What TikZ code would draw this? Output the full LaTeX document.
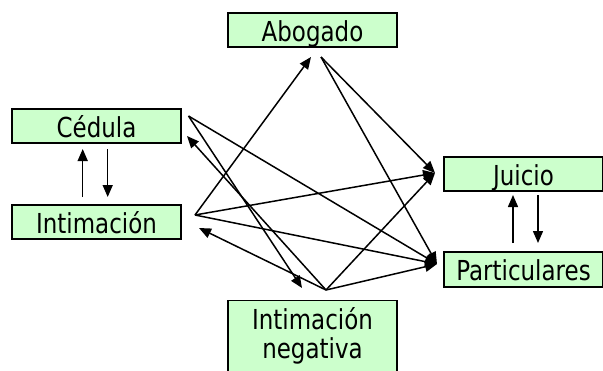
\documentclass[tikz,border=0pt]{standalone}
\usepackage{fontspec}
\setmainfont{DejaVu Sans}[FakeStretch=0.835]
\usetikzlibrary{arrows.meta}
\definecolor{boxgreen}{HTML}{CCFFCC}
\begin{document}
\begin{tikzpicture}[x=1pt,y=-1pt,
  box/.style={draw=black, line width=1.3pt, fill=boxgreen, inner sep=0pt,
    font=\fontsize{27.5}{29}\selectfont, text height=22pt, text depth=0pt,
    minimum height=34pt},
  arr/.style={-{Triangle[length=12pt,width=10pt]}, line width=1.5pt}]
\useasboundingbox (0,0) rectangle (603,370);
% boxes
\node[box, minimum width=169pt] (abogado) at (312.5,30) {Abogado};
\node[box, minimum width=169pt] (cedula) at (96.5,126) {Cédula};
\node[box, minimum width=169pt] (intim) at (96.5,222) {Intimación};
\node[box, minimum width=159pt] (juicio) at (523.5,174) {Juicio};
\node[box, minimum width=159pt, minimum height=35pt] (partic) at (523.5,269.5) {Particulares};
\node[draw=black, line width=1.3pt, fill=boxgreen, anchor=north, align=center,
  minimum width=169pt, minimum height=72pt, inner xsep=0pt, inner ysep=10pt,
  font=\fontsize{27.5}{29}\selectfont, text height=48pt] (neg) at (312.5,300)
  {Intimación\\negativa};
% connector end points
\coordinate (abT) at (311,57);
\coordinate (abS) at (321,57);
\coordinate (ceS) at (188.5,116);
\coordinate (ceT) at (187,136);
\coordinate (inS) at (195,215);
\coordinate (inT) at (199,228);
\coordinate (neS) at (326,290);
\coordinate (neT) at (302,288);
\coordinate (juT) at (435,173);
\coordinate (paT) at (437,264);
% vertical pairs
\coordinate (ciU1) at (82.7,197);
\coordinate (ciU2) at (82.7,149);
\coordinate (ciD1) at (107.7,149);
\coordinate (ciD2) at (107.7,197);
\coordinate (jpU1) at (513,243);
\coordinate (jpU2) at (513,195);
\coordinate (jpD1) at (538,195);
\coordinate (jpD2) at (538,243);
\draw[arr] (ciU1) -- (ciU2);
\draw[arr] (ciD1) -- (ciD2);
\draw[arr] (jpU1) -- (jpU2);
\draw[arr] (jpD1) -- (jpD2);
% cross connectors
\draw[arr] (inS) -- (abT);
\draw[arr] (inS) -- (juT);
\draw[arr] (inS) -- (paT);
\draw[arr] (abS) -- (juT);
\draw[arr] (abS) -- (paT);
\draw[arr] (ceS) -- (paT);
\draw[arr] (ceS) -- (neT);
\draw[arr] (neS) -- (ceT);
\draw[arr] (neS) -- (inT);
\draw[arr] (neS) -- (juT);
\draw[arr] (neS) -- (paT);
\end{tikzpicture}
\end{document}
